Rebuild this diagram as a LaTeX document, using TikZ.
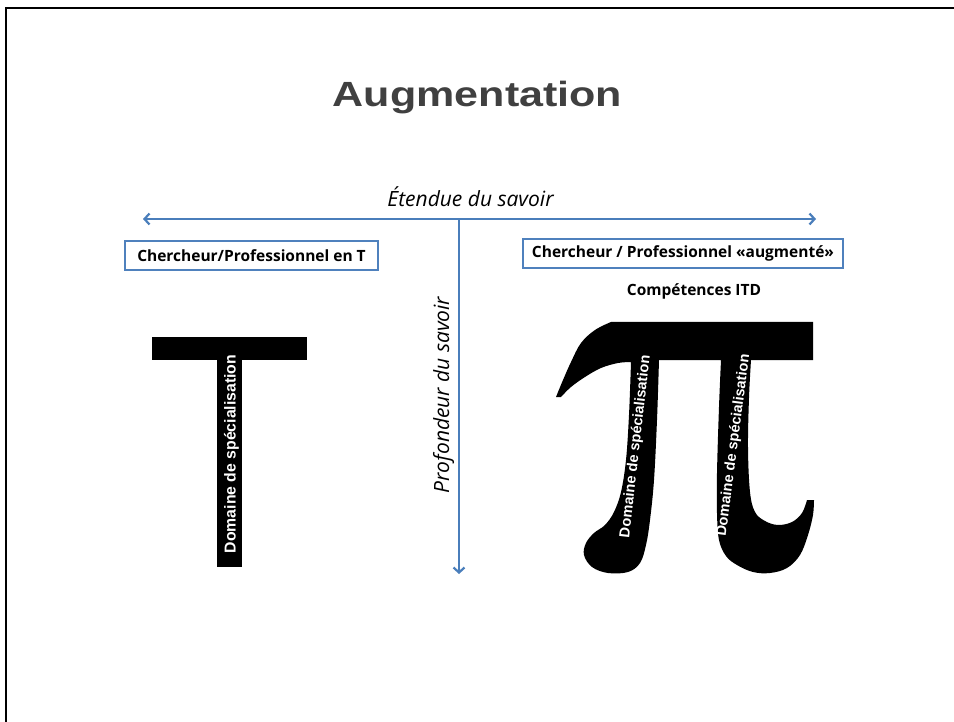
\documentclass[tikz,border=0pt]{standalone}
\usepackage{fontspec}
\setmainfont{Liberation Sans}
\newfontfamily\osans{Open Sans}
\usetikzlibrary{arrows.meta}
\definecolor{axisblue}{HTML}{4A7EBB}
\definecolor{boxblue}{HTML}{4F81BD}
\definecolor{titlegray}{HTML}{404040}
\tikzset{
  axisboth/.style={draw=axisblue, line width=2.2pt, {Straight Barb[length=5pt,width=11pt]}-{Straight Barb[length=5pt,width=11pt]}},
  axisdown/.style={draw=axisblue, line width=2.2pt, -{Straight Barb[length=5pt,width=11pt]}},
  axislabel/.style={font=\osans\itshape\fontsize{21}{25}\selectfont, inner sep=0pt, anchor=base},
  rolebox/.style={draw=boxblue, line width=2pt, fill=white, inner sep=0pt, font=\osans\bfseries\fontsize{15.5}{18}\selectfont},
  itdlabel/.style={inner sep=0pt, font=\osans\bfseries\fontsize{15.5}{18}\selectfont, anchor=base},
  domtext/.style={text=white, inner sep=0pt, anchor=base, font=\bfseries\fontsize{15.8}{19}\selectfont},
  domtextpi/.style={text=white, inner sep=0pt, anchor=base, font=\bfseries\fontsize{14.6}{18}\selectfont},
}
\begin{document}
\begin{tikzpicture}[x=1pt,y=-1pt]
\useasboundingbox (0,0) rectangle (954,722);
% frame
\draw[line width=2.5pt] (6,722) -- (6,8) -- (954,8);
% title
\node[inner sep=0pt, anchor=base, text=titlegray, font=\bfseries\fontsize{35}{40}\selectfont] (title) at (477.5,106.5) {\scalebox{1.23}[1]{Augmentation}};
% axes
\coordinate (hl) at (143,219);
\coordinate (hr) at (816,219);
\coordinate (vt) at (459,219);
\coordinate (vb) at (459,574);
\draw[axisboth] (hl) -- (hr);
\draw[axisdown] (vt) -- (vb);
\node[axislabel] (etendue) at (470.5,206.5) {Étendue du savoir};
\node[axislabel, rotate=90] (profondeur) at (449,395) {Profondeur du savoir};
% boxes
\node[rolebox, minimum width=253pt, minimum height=29pt] (tbox) at (251.5,255.5) {Chercheur/Professionnel en T};
\node[rolebox, minimum width=320pt, minimum height=29pt] (pibox) at (683,253.5) {Chercheur / Professionnel «augmenté»};
\node[itdlabel] (itd) at (694,296) {Compétences ITD};
% T shape
\fill (152,337) rectangle (307,360);
\fill (217,359) rectangle (242,567);
\node[domtext, rotate=90] (tdom) at (235.5,454) {Domaine de spécialisation};
% pi shape
\fill (611,322) -- (813,322) -- (813,360) -- (751,360)
  -- plot[smooth, tension=0.6] coordinates {(751,360) (749,398) (748,448) (750,492) (755,512) (765,521) (778,525) (792,522) (802,513) (807,500)}
  -- (814,500)
  -- plot[smooth, tension=0.6] coordinates {(814,500) (813,515) (808,535) (800,555) (787,568) (770,573) (753,572) (737,565) (726,556) (719,540) (717,513) (717,473) (719,407) (721,360)}
  -- (659,360)
  -- plot[smooth, tension=0.6] coordinates {(659,360) (657,420) (654,480) (650,520) (646,545) (640,563) (628,572) (608,573) (592,567) (584,555) (586,543) (594,533) (605,525) (614,512) (621,492) (626,460) (629,415) (631,362)}
  -- plot[smooth, tension=0.6] coordinates {(631,362) (618,363) (601,368) (585,377) (571,387) (561,397)}
  -- (556,397)
  -- plot[smooth, tension=0.6] coordinates {(556,397) (563,380) (571,362) (581,343) (595,330) (611,322)}
  -- cycle;
\node[domtextpi, rotate=83.5] (pidom1) at (639.5,447) {Domaine de spécialisation};
\node[domtextpi, rotate=82.6] (pidom2) at (737.5,446) {Domaine de spécialisation};
\end{tikzpicture}
\end{document}
